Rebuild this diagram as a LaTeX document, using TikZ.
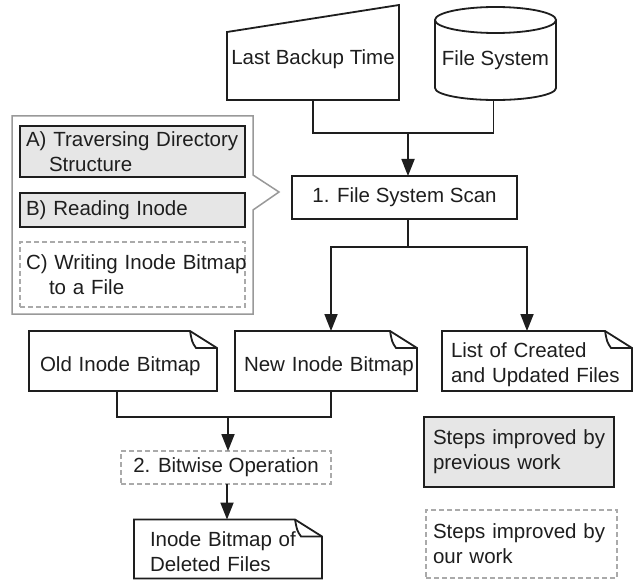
\documentclass[tikz,border=0pt]{standalone}
\usepackage{fontspec}
\setmainfont{Liberation Sans}
\usetikzlibrary{arrows.meta,calc}
\definecolor{boxgray}{HTML}{E6E6E6}
\definecolor{dashgray}{HTML}{AAAAAA}
\definecolor{callgray}{HTML}{999999}
\definecolor{ink}{HTML}{1E1E1E}
\newcommand\mystrut[1]{\rule{0pt}{#1pt}}
\tikzset{
  mybase/.style={inner sep=0pt, outer sep=0pt, font=\fontsize{20.5}{25}\selectfont, text=ink, align=left},
  plainbox/.style={mybase, draw=ink, line width=1.8pt, rectangle},
  prevbox/.style={plainbox, fill=boxgray},
  ourbox/.style={mybase, draw=dashgray, line width=1.3pt, dash pattern=on 5pt off 3pt},
  shapebox/.style={mybase, draw=none, rectangle},
  docline/.style={draw=ink, line width=1.8pt, line join=miter},
  conn/.style={draw=ink, line width=1.8pt},
  arr/.style={conn, -{Triangle[length=17pt,width=13pt]}},
}
\newcommand\docoutline[1]{%
  \draw[docline] (#1.north west) -- ([xshift=-27pt]#1.north east) -- ([yshift=-17pt]#1.north east) -- (#1.south east) -- (#1.south west) -- cycle;
  \draw[docline] ([xshift=-27pt]#1.north east) .. controls ([xshift=-25pt,yshift=-11pt]#1.north east) .. ([xshift=-21pt,yshift=-17pt]#1.north east) -- ([yshift=-17pt]#1.north east);
}
\begin{document}
\begin{tikzpicture}[x=1pt,y=-1pt]
\useasboundingbox (0,0) rectangle (634,580);
\fill[white] (0,0) rectangle (634,580);

% Last Backup Time (manual input)
\node[shapebox, minimum width=172pt, minimum height=82pt] (lbt) at (313,59) {Last Backup Time};
\draw[docline] ([yshift=-14pt]lbt.north west) -- ([yshift=13pt]lbt.north east) -- (lbt.south east) -- (lbt.south west) -- cycle;

% File System (cylinder)
\node[shapebox, minimum width=121pt, minimum height=80pt] (fs) at (495.5,60) {File System};
\draw[docline] (fs.north) ellipse [x radius=60.5pt, y radius=13pt];
\draw[docline] (fs.north west) -- ([yshift=12pt]fs.south west) arc[start angle=180, end angle=360, x radius=60.5pt, y radius=12pt] -- (fs.north east);

% 1. File System Scan
\node[plainbox, minimum width=225pt, minimum height=43pt] (scan) at (404.5,197.5) {1. File System Scan};

% callout frame
\draw[callgray, line width=1.5pt, fill=white] (12,116) -- (253,116) -- (253,175) -- (279,192) -- (253,210) -- (253,314) -- (12,314) -- cycle;
\node[prevbox, minimum width=225pt, minimum height=51pt, text width=213pt] (sa) at (132.5,151.5) {\mbox{A) Traversing Directory}\\\hspace*{23pt}Structure};
\node[prevbox, minimum width=225pt, minimum height=34pt, text width=213pt] (sb) at (132.5,210) {B) Reading Inode};
\node[ourbox, minimum width=225pt, minimum height=65pt, text width=213pt] (sc) at (132.5,274.5) {\mbox{C) Writing Inode Bitmap}\\\hspace*{23pt}to a File};

% document nodes
\node[shapebox, minimum width=188pt, minimum height=60pt, text width=166pt] (old) at (123,361) {\mystrut{25}\mbox{Old Inode Bitmap}};
\docoutline{old}
\node[shapebox, minimum width=182pt, minimum height=60pt, text width=164pt] (new) at (326,361) {\mystrut{25}\mbox{New Inode Bitmap}};
\docoutline{new}
\node[shapebox, minimum width=190pt, minimum height=60pt, text width=172pt] (list) at (537,361) {\mystrut{22}\mbox{List of Created}\\\mbox{and Updated Files}};
\docoutline{list}

% 2. Bitwise Operation
\node[ourbox, minimum width=210pt, minimum height=33pt] (bw) at (226,467.5) {2. Bitwise Operation};

\node[shapebox, minimum width=188pt, minimum height=59pt, text width=156pt] (del) at (228,549) {\mystrut{20}\mbox{Inode Bitmap of}\\Deleted Files};
\docoutline{del}

% legend
\node[prevbox, minimum width=190pt, minimum height=70pt, text width=172pt] (lg1) at (519,452) {\mbox{Steps improved by}\\previous work};
\node[ourbox, minimum width=191pt, minimum height=68pt, text width=177pt] (lg2) at (521.5,544) {\mbox{Steps improved by}\\our work};

% connectors
\coordinate (j1) at (408,133);
\draw[conn] (lbt.south) |- (j1);
\draw[conn] ([xshift=-2pt]fs.south) |- (j1);
\draw[arr] (j1) -- (j1 |- scan.north);

\coordinate (j2) at (408,247);
\draw[conn] (scan.south -| j2) -- (j2);
\draw[arr] (j2) -| ([xshift=5pt]new.north);
\draw[arr] (j2) -| ([xshift=-10pt]list.north);

\coordinate (j3) at (228,417);
\draw[conn] ([xshift=-6pt]old.south) |- (j3);
\draw[conn] ([xshift=5pt]new.south) |- (j3);
\draw[arr] (j3) -- (j3 |- bw.north);
\draw[arr] ([xshift=1pt]bw.south) -- ([xshift=1pt]bw.south |- del.north);
\end{tikzpicture}
\end{document}
